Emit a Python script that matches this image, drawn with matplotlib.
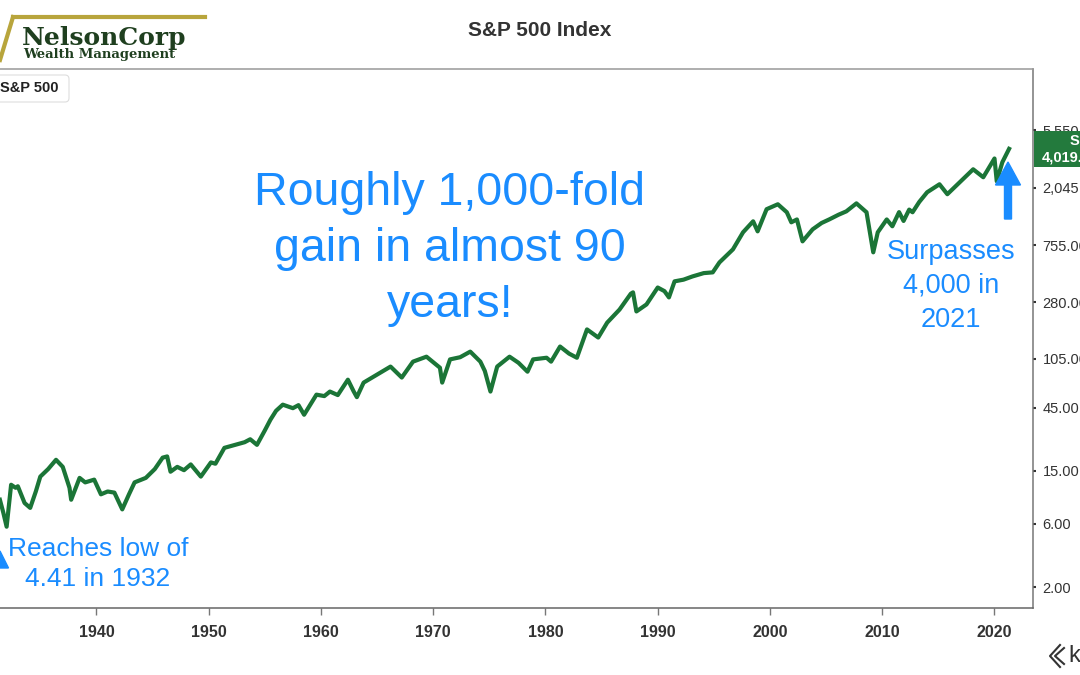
import matplotlib.pyplot as plt
from matplotlib.patches import FancyBboxPatch, Rectangle, FancyArrow
from matplotlib.lines import Line2D
from matplotlib.transforms import IdentityTransform
from matplotlib.ticker import NullLocator

plt.rcParams['font.family'] = ['Liberation Sans', 'DejaVu Sans']

# S&P 500 level (decimal year, index value)
years = [1931.4, 1931.7, 1932.0, 1932.4, 1932.8, 1933.0, 1933.6, 1934.1, 1934.6, 1935.0,
         1935.7, 1936.4, 1937.0, 1937.6, 1937.75, 1938.5, 1939.0, 1939.8, 1940.4, 1941.0,
         1941.6, 1942.3, 1942.9, 1943.4, 1944.4, 1945.2, 1945.9, 1946.3, 1946.6, 1947.2,
         1947.8, 1948.4, 1949.3, 1950.2, 1950.6, 1951.4, 1952.3, 1953.2, 1953.7, 1954.3,
         1955.0, 1955.5, 1956.0, 1956.6, 1957.5, 1958.0, 1958.5, 1959.6, 1960.3, 1960.8,
         1961.5, 1962.4, 1962.9, 1963.2, 1963.8, 1965.0, 1966.2, 1967.2, 1968.2, 1969.4,
         1970.6, 1970.8, 1971.5, 1972.4, 1973.3, 1974.2, 1974.6, 1975.1, 1975.7, 1976.8,
         1977.6, 1978.4, 1978.9, 1980.1, 1980.5, 1981.3, 1982.1, 1982.8, 1983.7, 1984.7,
         1985.5, 1986.6, 1987.6, 1987.8, 1988.1, 1989.0, 1990.0, 1990.6, 1991.0, 1991.5,
         1992.3, 1993.1, 1994.1, 1994.9, 1995.5, 1996.7, 1997.6, 1998.5, 1998.9, 1999.7,
         2000.7, 2001.5, 2001.9, 2002.4, 2002.9, 2003.8, 2004.6, 2005.3, 2006.1, 2006.8,
         2007.7, 2008.6, 2009.2, 2009.6, 2010.4, 2010.9, 2011.5, 2011.9, 2012.4, 2012.7,
         2013.3, 2014.0, 2015.1, 2015.8, 2016.9, 2018.1, 2019.0, 2020.0, 2020.2, 2020.7,
         2021.3]
prices = [9.1, 7.3, 5.7, 11.8, 11.2, 11.5, 8.6, 7.9, 10.5, 13.6,
          15.5, 18.2, 16.1, 11.2, 9.1, 13.3, 12.3, 12.9, 10.0, 10.5,
          10.3, 7.7, 10.0, 12.3, 13.3, 15.5, 18.9, 19.3, 14.8, 16.1,
          15.2, 16.8, 13.6, 17.4, 17.0, 22.4, 23.5, 24.7, 26.0, 23.6,
          30.3, 36.5, 42.6, 47.4, 44.6, 47.0, 39.8, 56.4, 55.0, 59.5,
          56.0, 73.1, 60.0, 54.0, 69.5, 79.8, 91.8, 75.9, 100, 109,
          90, 69.5, 104, 108, 119, 100, 85, 59.5, 91.8, 109,
          98, 84, 104, 107, 100, 130, 115, 107, 175, 152,
          197, 247, 325, 333, 239, 270, 362, 340, 305, 403,
          415, 439, 465, 471, 560, 702, 944, 1143, 960, 1410,
          1536, 1337, 1123, 1180, 807, 994, 1110, 1183, 1280, 1358,
          1560, 1337, 667, 944, 1180, 1048, 1340, 1150, 1400, 1337,
          1600, 1892, 2173, 1829, 2249, 2818, 2455, 3400, 2292, 3187,
          4019]

x_ticks = [1940, 1950, 1960, 1970, 1980, 1990, 2000, 2010, 2020]
y_ticks = [2, 6, 15, 45, 105, 280, 755, 2045, 5550]
y_tick_labels = ['2.00', '6.00', '15.00', '45.00', '105.00', '280.00', '755.00',
                 '2,045.00', '5,550.00']

W, H = 1080, 675
BLUE = '#1a8cff'
GREEN = '#1b7537'

fig = plt.figure(figsize=(W / 100, H / 100), dpi=100)
ax = fig.add_axes([0, 1 - 608 / H, 1033 / W, (608 - 69) / H])

ax.plot(years, prices, color=GREEN, lw=3, solid_joinstyle='round')
ax.set_yscale('log')
ax.set_xlim(1931.41, 2023.43)
ax.set_ylim(1.39, 16070)

ax.set_xticks(x_ticks)
ax.set_xticklabels([str(t) for t in x_ticks])
ax.set_yticks(y_ticks)
ax.set_yticklabels(y_tick_labels)
ax.yaxis.set_minor_locator(NullLocator())
ax.yaxis.tick_right()
ax.tick_params(axis='x', length=5, width=1, color='#777', pad=7,
               labelsize=11.5, labelcolor='#333')
ax.tick_params(axis='y', length=2, width=1.5, color='#333', pad=5,
               labelsize=10.5, labelcolor='#333')
for lab in ax.get_xticklabels():
    lab.set_fontweight('bold')

ax.spines['left'].set_visible(False)
ax.spines['top'].set_color('#999')
ax.spines['right'].set_color('#777')
ax.spines['bottom'].set_color('#666')
for s in ['top', 'right', 'bottom']:
    ax.spines[s].set_linewidth(1.1)

# title
fig.text(540 / W, 1 - 30 / H, 'S&P 500 Index', ha='center', va='center',
         fontsize=15, fontweight='bold', color='#333')

# logo
px = IdentityTransform()
fig.add_artist(Line2D([13, 205], [H - 17, H - 17], transform=px, color='#b8a53c', lw=3))
fig.add_artist(Line2D([13, 0], [H - 17, H - 60], transform=px, color='#b8a53c', lw=3))
fig.text(22 / W, 1 - 45 / H, 'NelsonCorp', family='DejaVu Serif', fontweight='bold',
         fontsize=18, color='#1f3f1f', va='baseline')
fig.text(23 / W, 1 - 58 / H, 'Wealth Management', family='DejaVu Serif',
         fontweight='bold', fontsize=9.5, color='#1f3f1f', va='baseline')

# series tag top left
fig.add_artist(FancyBboxPatch((-6, H - 102), 75, 27, boxstyle='round,pad=0,rounding_size=4',
                              transform=px, facecolor='white', edgecolor='#dddddd', lw=0.8))
fig.text(0.5 / W, 1 - 88 / H, 'S&P 500', fontsize=10.5, fontweight='bold', color='#222',
         va='center')

# last value tag on the right
fig.add_artist(Rectangle((1034, H - 167), 50, 36, transform=px, facecolor='#237a3d',
                         edgecolor='none'))
fig.text(1070 / W, 1 - 141 / H, 'S&P 500', fontsize=10.5, fontweight='bold', color='white',
         va='center')
fig.text(1042 / W, 1 - 157 / H, '4,019.87', fontsize=10.5, fontweight='bold', color='white',
         va='center')

# annotations
fig.text(450 / W, 1 - 249 / H, 'Roughly 1,000-fold\ngain in almost 90\nyears!',
         ha='center', va='center', fontsize=33.5, linespacing=1.34, color=BLUE)
fig.text(951 / W, 1 - 286 / H, 'Surpasses\n4,000 in\n2021', ha='center', va='center',
         fontsize=19.5, linespacing=1.38, color=BLUE)
fig.text(98 / W, 1 - 564 / H, 'Reaches low of\n4.41 in 1932', ha='center', va='center',
         fontsize=19, linespacing=1.33, color=BLUE)

fig.add_artist(FancyArrow(1008, H - 219, 0, 57, width=7, head_width=25, head_length=23,
                          length_includes_head=True, color=BLUE, transform=px))
fig.add_artist(FancyArrow(0, H - 568, 0, 17, width=1, head_width=17, head_length=17,
                          length_includes_head=True, color=BLUE, transform=px))

# koyfin mark
fig.add_artist(Line2D([1060, 1050, 1060], [H - 645, H - 656, H - 667], transform=px,
                      color='#333', lw=1.5))
fig.add_artist(Line2D([1064, 1055, 1064], [H - 648, H - 656, H - 664], transform=px,
                      color='#333', lw=1.5))
fig.text(1068 / W, 1 - 656 / H, 'k', fontsize=17, color='#333', va='center')

fig.savefig('out.png', dpi=100)
